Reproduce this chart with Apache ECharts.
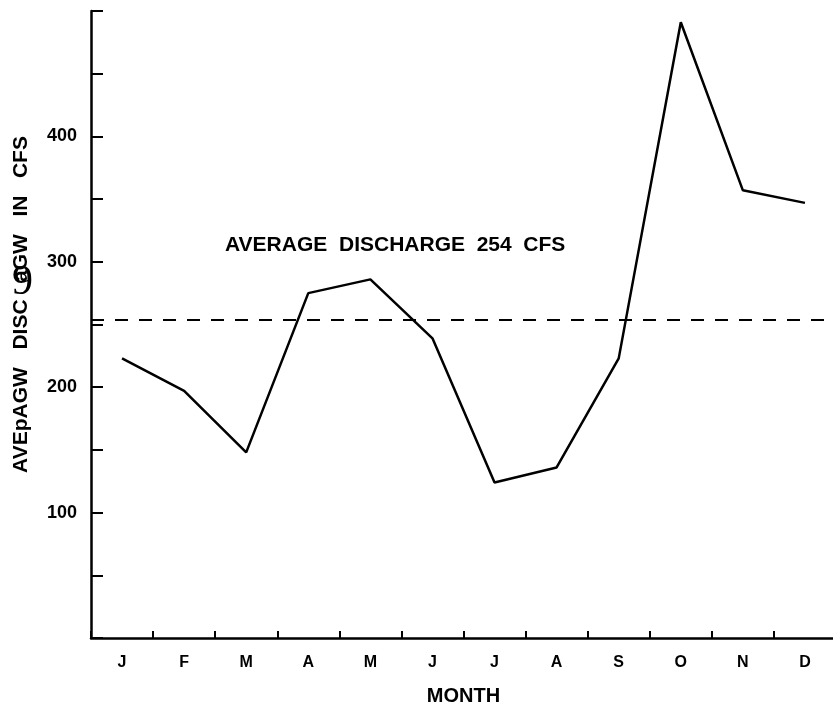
<!DOCTYPE html>
<html>
<head>
<meta charset="utf-8">
<script src="https://cdn.jsdelivr.net/npm/echarts@6/dist/echarts.min.js"></script>
<style>
  html, body { margin: 0; padding: 0; background: #fff; }
</style>
</head>
<body>
<div id="chart" style="width: 833px;height: 704px;"></div>
<script>
// months and average monthly discharge (cfs)
var months = ['J', 'F', 'M', 'A', 'M', 'J', 'J', 'A', 'S', 'O', 'N', 'D']
var discharge = [223, 197, 148, 275, 286, 239, 124, 136, 223, 491, 357, 347]
var yLabels = [100, 200, 300, 400]

var font = 'Liberation Sans'

var chart = echarts.init(document.getElementById('chart'))
var option = {
  animation: false,
  backgroundColor: '#fff',
  grid: { left: 91, right: -3, top: 11, bottom: 66, outerBoundsMode: 'none' },
  xAxis: {
    type: 'category',
    data: months,
    boundaryGap: true,
    name: 'MONTH',
    nameLocation: 'middle',
    nameGap: 48,
    nameTextStyle: { fontFamily: font, fontWeight: 'bold', fontSize: 20, color: '#000' },
    axisLine: { lineStyle: { color: '#000', width: 2.5 } },
    axisTick: { show: true, inside: true, length: 7, lineStyle: { color: '#000', width: 2 } },
    axisLabel: { margin: 17, fontFamily: font, fontWeight: 'bold', fontSize: 16, color: '#000' },
    splitLine: { show: false }
  },
  yAxis: {
    type: 'value',
    min: 0,
    max: 500,
    interval: 50,
    name: 'AVEpAGW   DISC   aGW   IN   CFS',
    nameLocation: 'middle',
    nameGap: 59,
    nameTextStyle: {
      fontFamily: font, fontWeight: 'bold', fontSize: 21, color: '#000',
      padding: [0, 0, 0, 40]
    },
    axisLine: { show: true, lineStyle: { color: '#000', width: 2.5 } },
    axisTick: { show: true, inside: true, length: 12, lineStyle: { color: '#000', width: 2 } },
    axisLabel: {
      margin: 14,
      fontFamily: font, fontWeight: 'bold', fontSize: 18, color: '#000',
      formatter: function (v) {
        return yLabels.indexOf(v) >= 0 ? String(v) : ''
      }
    },
    splitLine: { show: false }
  },
  graphic: [
    {
      type: 'text',
      left: 225,
      top: 235,
      style: {
        text: 'AVERAGE  DISCHARGE  254  CFS',
        fontFamily: font, fontWeight: 'bold', fontSize: 21, fill: '#000'
      }
    },
    {
      type: 'text',
      left: 12,
      top: 262,
      style: { text: '9', fontFamily: 'Liberation Serif', fontSize: 42, fill: '#000' }
    }
  ],
  series: [{
    name: 'discharge',
    type: 'line',
    data: discharge,
    showSymbol: false,
    symbol: 'none',
    lineStyle: { color: '#000', width: 2.5 },
    markLine: {
      silent: true,
      symbol: 'none',
      label: { show: false },
      lineStyle: { color: '#000', width: 2, type: [13, 11] },
      data: [{ type: 'average' }]
    }
  }]
}
chart.setOption(option)
</script>
</body>
</html>
